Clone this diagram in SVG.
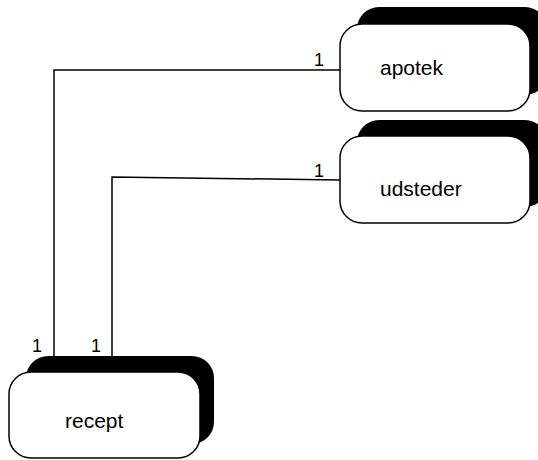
<svg xmlns="http://www.w3.org/2000/svg" width="538" height="460" viewBox="0 0 538 460">
<style>
.sh{fill:#000;stroke:none}
.bx{fill:#fff;stroke:#000;stroke-width:1.5}
.t{font-family:"Liberation Sans",Arial,sans-serif;font-size:21px;fill:#000}
.n{font-family:"Liberation Sans",Arial,sans-serif;font-size:18px;fill:#000}
.c{fill:none;stroke:#000;stroke-width:1.5}
</style>
<rect width="538" height="460" fill="#fff"/>
<g id="connectors">
<polyline class="c" points="340,70 54,70 54,357"/>
<polyline class="c" points="340,180 112,177 112,357"/>
<text class="n" x="314" y="66">1</text>
<text class="n" x="314" y="177">1</text>
<text class="n" x="32" y="352">1</text>
<text class="n" x="91" y="352">1</text>
</g>
<g id="apotek">
<rect class="sh" x="357" y="7" width="190" height="88" rx="22"/>
<rect class="bx" x="340" y="24" width="190" height="87" rx="22"/>
<text class="t" x="380" y="75">apotek</text>
</g>
<g id="udsteder">
<rect class="sh" x="357" y="120" width="190" height="87" rx="22"/>
<rect class="bx" x="340" y="136" width="190" height="87" rx="22"/>
<text class="t" x="380" y="196">udsteder</text>
</g>
<g id="recept">
<rect class="sh" x="26" y="356" width="188" height="88" rx="22"/>
<rect class="bx" x="9" y="372" width="191" height="86" rx="22"/>
<text class="t" x="65" y="428">recept</text>
</g>
</svg>
